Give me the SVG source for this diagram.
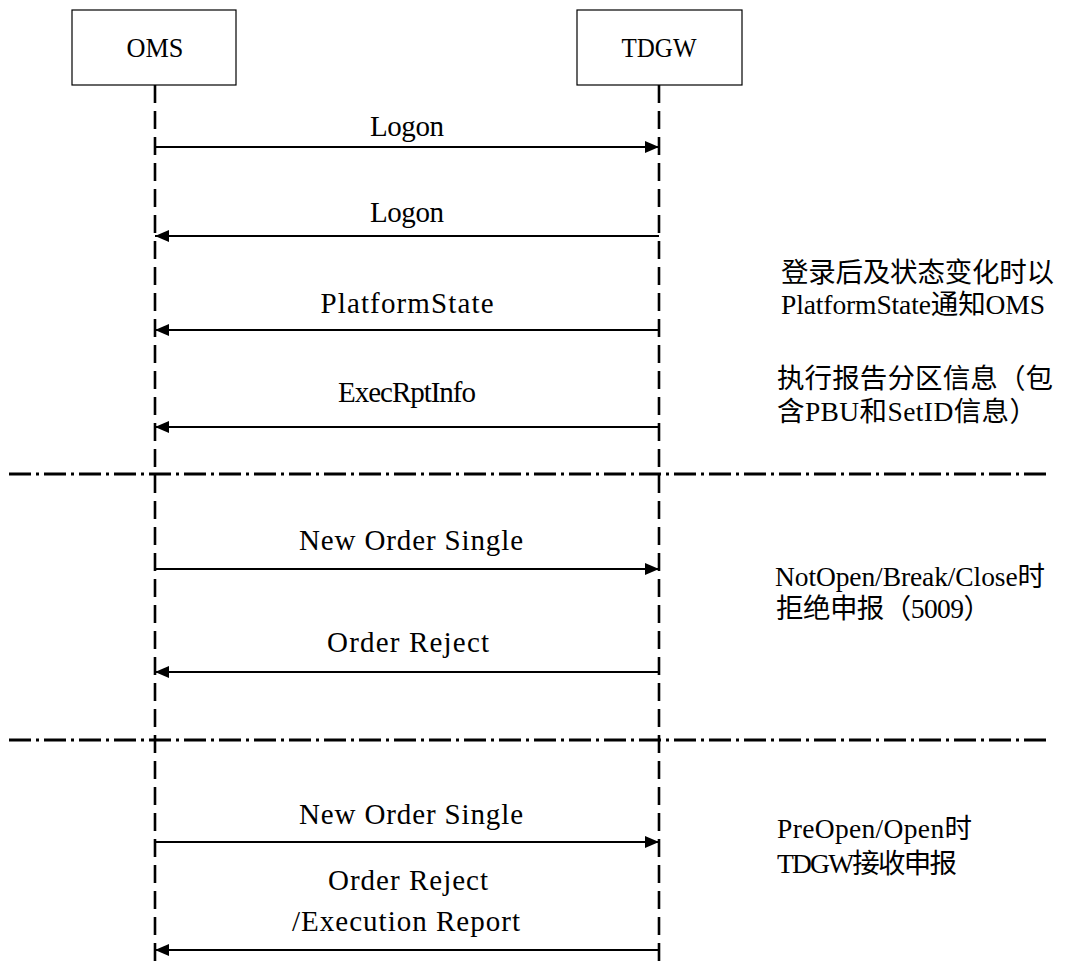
<svg xmlns="http://www.w3.org/2000/svg" width="1065" height="968" viewBox="0 0 1065 968">
<style>
text{font-family:"Liberation Serif","Noto Sans CJK SC",serif;font-size:29px;fill:#000}
.lbl{text-anchor:middle}
.note{font-size:27.5px}
.box{fill:#fff;stroke:#000;stroke-width:1.2}
.life{stroke:#000;stroke-width:2.6;stroke-dasharray:18 8;fill:none}
.msg{stroke:#000;stroke-width:1.8;fill:none}
.sep{stroke:#000;stroke-width:3;stroke-dasharray:22 5 3 5;fill:none}
</style>
<defs>
<marker id="ah" viewBox="0 0 14 12" refX="14" refY="6" markerWidth="14" markerHeight="12" markerUnits="userSpaceOnUse" orient="auto">
<path d="M0,0 L14,6 L0,12 Z" fill="#000"/>
</marker>
</defs>
<rect width="1065" height="968" fill="#fff"/>
<g id="separators">
<line class="sep" x1="9" y1="474" x2="1046" y2="474"/>
<line class="sep" x1="9" y1="740" x2="1046" y2="740"/>
</g>
<g id="OMS">
<rect class="box" x="72" y="10" width="164" height="75"/>
<text x="155" y="57" text-anchor="middle" style="font-size:27px" textLength="57" lengthAdjust="spacingAndGlyphs">OMS</text>
<line class="life" x1="155" y1="85" x2="155" y2="968"/>
</g>
<g id="TDGW">
<rect class="box" x="577" y="10" width="165" height="75"/>
<text x="659" y="57" text-anchor="middle" style="font-size:27px" textLength="75" lengthAdjust="spacingAndGlyphs">TDGW</text>
<line class="life" x1="659" y1="85" x2="659" y2="968"/>
</g>
<g id="connectors">
<line class="msg" x1="155" y1="147" x2="659" y2="147" marker-end="url(#ah)"/>
<line class="msg" x1="659" y1="236" x2="155" y2="236" marker-end="url(#ah)"/>
<line class="msg" x1="659" y1="330" x2="155" y2="330" marker-end="url(#ah)"/>
<line class="msg" x1="659" y1="427" x2="155" y2="427" marker-end="url(#ah)"/>
<line class="msg" x1="155" y1="569" x2="659" y2="569" marker-end="url(#ah)"/>
<line class="msg" x1="659" y1="672" x2="155" y2="672" marker-end="url(#ah)"/>
<line class="msg" x1="155" y1="842" x2="659" y2="842" marker-end="url(#ah)"/>
<line class="msg" x1="659" y1="950" x2="155" y2="950" marker-end="url(#ah)"/>
</g>
<g id="labels">
<text class="lbl" x="407" y="136" textLength="74">Logon</text>
<text class="lbl" x="407" y="222" textLength="74">Logon</text>
<text class="lbl" x="407" y="313" textLength="173">PlatformState</text>
<text class="lbl" x="407" y="402" textLength="138">ExecRptInfo</text>
<text class="lbl" x="411" y="550" textLength="224">New Order Single</text>
<text class="lbl" x="408" y="652" textLength="162">Order Reject</text>
<text class="lbl" x="411" y="824" textLength="224">New Order Single</text>
<text class="lbl" x="408" y="890" textLength="160">Order Reject</text>
<text class="lbl" x="406" y="931" textLength="228">/Execution Report</text>
</g>
<g id="notes">
<text class="note" x="781" y="282" textLength="273">登录后及状态变化时以</text>
<text class="note" x="781" y="314" textLength="264">PlatformState通知OMS</text>
<text class="note" x="777" y="388" textLength="276">执行报告分区信息（包</text>
<text class="note" x="777" y="421" textLength="260">含PBU和SetID信息）</text>
<text class="note" x="775" y="586" textLength="270">NotOpen/Break/Close时</text>
<text class="note" x="776" y="618" textLength="215">拒绝申报（5009）</text>
<text class="note" x="777" y="838" textLength="195">PreOpen/Open时</text>
<text class="note" x="777" y="873" textLength="180">TDGW接收申报</text>
</g>
</svg>
